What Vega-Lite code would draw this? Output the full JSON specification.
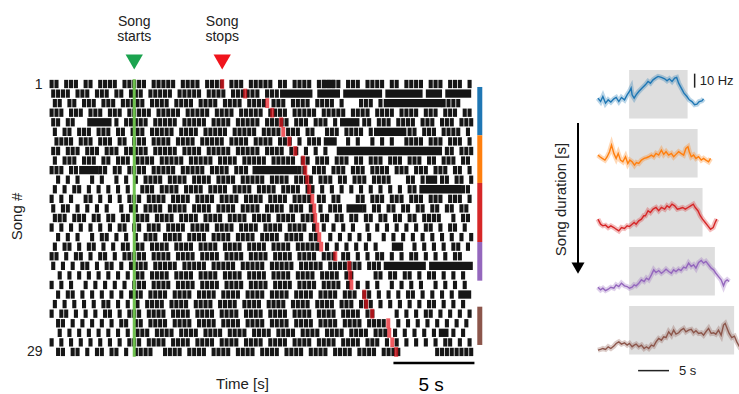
{
"$schema": "https://vega.github.io/schema/vega-lite/v6.json",
"padding": {"left": 9, "top": 14, "right": 0, "bottom": 2},
"bounds": "flush",
"spacing": 9,
"config": {"view": {"stroke": null}, "font": "Liberation Sans", "scale": {"continuousPadding": 0}, "axis": {"labelColor": "#222", "titleColor": "#222", "labelFont": "Liberation Sans", "titleFont": "Liberation Sans"}},
"datasets": {
"spikes": [
{"song":1,"t":[-5.1,-4.8,-4.2,-3.9,-3.6,-3.0,-2.7,-2.1,-1.8,-1.5,-1.2,-0.6,-0.3,0.0,0.3,0.6,1.2,1.5,1.8,2.1,2.4,3.0,3.3,3.6,3.9,4.5,4.8,5.1,5.4,6.0,6.3,6.6,7.2,7.5,7.8,8.1,8.4,9.0,9.3,9.9,10.2,10.5,10.8,11.4,11.7,12.0,12.3,12.6,13.2,13.5,13.8,14.4,14.7,15.0,15.3,15.9,16.2,16.8,17.1,17.4,17.7,18.3,18.6,18.9,19.5,19.8,20.1,20.7]},
{"song":2,"t":[-5.0,-4.7,-4.4,-4.1,-3.5,-3.2,-2.9,-2.3,-2.0,-1.7,-1.1,-0.8,-0.2,0.1,0.4,1.0,1.3,1.6,1.9,2.2,2.8,3.1,3.4,3.7,4.0,4.6,4.9,5.2,5.5,6.1,6.4,6.7,7.0,7.3,7.6,8.2,8.5,8.8]},
{"song":3,"t":[-4.9,-4.6,-4.0,-3.7,-3.1,-2.8,-2.5,-1.9,-1.6,-1.3,-0.7,-0.4,-0.1,0.2,0.5,1.1,1.4,1.7,2.0,2.6,2.9,3.2,3.5,4.1,4.4,4.7,5.0,5.6,5.9,6.2,6.5,7.1,7.4,7.7,8.0,8.6,8.9,9.2,9.8,10.1,10.4,10.7,11.3,11.6,11.9,12.2,12.8,14.0,14.3,14.6,15.2,19.1,19.4,19.7,20.0]},
{"song":4,"t":[-5.1,-4.8,-4.5,-3.9,-3.6,-3.3,-2.7,-2.4,-2.1,-1.5,-1.2,-0.9,-0.3,0.0,0.3,0.6,0.9,1.5,1.8,2.1,2.4,2.7,3.3,3.6,3.9,4.2,4.5,5.1,5.4,5.7,6.0,6.6,6.9,7.2,7.5,7.8,8.4,8.7,9.0,9.3,9.9,10.2,10.5,10.8,11.1,11.7,12.0,12.3,12.6,12.9,13.5,13.8,14.1,14.4,15.0,15.3,15.6,15.9,16.5,16.8,17.1,17.4,18.0,18.3,18.6,19.2,19.5,19.8,20.4,20.7]},
{"song":5,"t":[-5.0,-4.7,-4.1,-3.8,-1.1,-0.5,-0.2,0.1,0.4,0.7,1.3,1.6,1.9,2.2,2.5,3.1,3.4,3.7,4.0,4.3,4.9,5.2,5.5,5.8,6.4,6.7,7.0,7.3,7.6,8.2,8.5,8.8,9.1,9.4,10.0,10.3,10.6,11.2,11.5,11.8,12.4,14.2,14.5,15.1,15.4,15.7,16.3,16.6,16.9,17.2,17.8,18.1,18.4,19.0,19.3,19.6,20.2,20.5,20.8]},
{"song":6,"t":[-4.9,-4.3,-4.0,-3.4,-3.1,-2.8,-2.2,-1.9,-1.6,-1.0,-0.7,-0.1,0.2,0.5,1.1,1.4,1.7,2.0,2.3,2.9,3.2,3.5,3.8,4.4,4.7,5.0,5.3,5.6,6.2,6.5,6.8,7.1,7.4,8.0,8.3,8.6,8.9,9.5,9.8,10.1,10.7,11.0,11.9,12.2,12.5,13.1,13.4,13.7,14.0,14.6,17.0,17.3,17.9,18.2,18.5,19.1,19.4,19.7,20.0,20.6]},
{"song":7,"t":[-4.8,-4.5,-4.2,-3.9,-3.3,-3.0,-2.7,-2.1,-1.8,-1.5,-0.9,-0.6,0.0,0.3,0.6,1.2,1.5,1.8,2.1,2.7,3.0,3.3,3.6,4.2,4.5,4.8,5.1,5.4,6.0,6.3,6.6,6.9,7.5,7.8,8.1,8.4,9.0,9.3,9.6,10.2,10.8,11.1,11.4,13.2,13.8,14.7,15.3,15.9,16.8,17.1,17.4,17.7,18.3,18.6,18.9,19.5,19.8,20.1,20.7]},
{"song":8,"t":[-5.0,-4.7,-4.1,-3.8,-3.5,-2.9,-2.6,-2.3,-1.7,-1.4,-1.1,-0.5,-0.2,0.1,0.4,0.7,1.3,1.6,1.9,2.2,2.5,3.1,3.4,3.7,4.0,4.6,4.9,5.2,5.5,5.8,6.4,6.7,7.0,7.3,7.6,8.2,8.5,8.8,9.1,9.7,10.0,10.6,11.2,11.8,19.3,19.6,20.2,20.5,20.8]},
{"song":9,"t":[-4.9,-4.3,-4.0,-3.7,-3.1,-2.8,-2.5,-1.9,-1.6,-1.0,-0.7,-0.4,0.2,0.5,0.8,1.1,1.7,2.0,2.3,2.6,2.9,3.5,3.8,4.1,4.4,4.7,5.3,5.6,5.9,6.2,6.8,7.1,7.4,7.7,8.0,8.6,8.9,9.2,9.5,9.8,10.4,10.7,11.3,11.6,11.9,12.5,12.8,13.1,13.7,14.0,14.6,14.9,15.2,15.8,16.1,16.4,17.0,17.3,17.6,18.2,18.5,19.1,19.4,19.7,20.3,20.6]},
{"song":10,"t":[-5.1,-4.8,-4.5,-3.9,-3.6,-2.1,-1.8,-1.2,-0.9,-0.3,0.0,0.3,0.6,1.2,1.5,1.8,2.1,2.4,3.0,3.3,3.6,3.9,4.2,4.8,5.1,5.4,5.7,6.3,6.6,6.9,10.2,10.5,11.1,11.4,11.7,12.3,12.6,12.9,13.5,13.8,14.1,14.7,15.0,15.3,15.6,16.2,16.5,16.8,17.4,17.7,18.0,18.6,18.9,19.2,19.8,20.1,20.7]},
{"song":11,"t":[-4.7,-4.1,-3.5,-2.6,-2.0,-1.1,-0.5,0.1,0.7,1.0,1.3,1.6,2.2,2.5,2.8,3.1,3.7,4.0,4.3,4.6,5.2,5.5,5.8,6.1,6.7,7.0,7.3,7.6,7.9,8.5,8.8,9.1,9.4,10.0,10.3,10.6,10.9,11.5,11.8,12.1,12.7,13.0,13.6,13.9,14.2,14.8,15.1,15.4,15.7,16.9,17.2,17.8,19.0,19.3,19.9,20.2,20.8]},
{"song":12,"t":[-4.9,-4.3,-3.7,-3.4,-2.8,-2.2,-1.6,-1.0,-0.4,0.5,0.8,1.1,1.7,2.0,2.3,2.6,3.2,3.5,3.8,4.1,4.7,5.0,5.3,5.6,6.2,6.5,6.8,7.1,7.7,8.0,8.3,8.6,9.2,9.5,9.8,10.1,10.7,11.0,11.6,12.2,12.8,13.4,14.0,14.6,15.2,15.8,16.4,17.0,17.3,20.3,20.6]},
{"song":13,"t":[-5.1,-4.5,-3.9,-3.0,-2.7,-2.1,-1.5,-0.9,-0.3,0.0,0.3,0.9,1.2,1.5,1.8,2.4,2.7,3.0,3.3,3.9,4.2,4.5,4.8,5.4,5.7,6.0,6.3,6.9,7.2,7.5,7.8,8.4,8.7,9.0,9.3,9.9,10.2,10.5,10.8,11.4,11.7,12.3,12.6,13.8,14.1,14.7,15.0,15.3,15.9,16.2,16.5,17.1,17.4,17.7,18.3,18.6,18.9,19.5,19.8,20.1,20.7]},
{"song":14,"t":[-5.0,-4.4,-4.1,-3.5,-2.9,-2.3,-1.7,-0.8,-0.2,0.1,0.7,1.0,1.3,1.6,2.2,2.5,2.8,3.1,3.7,4.0,4.3,4.6,5.2,5.5,5.8,6.1,6.7,7.0,7.3,7.6,8.2,8.5,8.8,9.1,9.7,10.0,10.3,10.9,11.5,12.1,12.4,12.7,14.2,14.8,15.1,15.7,16.0,16.6,16.9,17.5,17.8,18.4,18.7,19.3,19.6,20.2,20.5]},
{"song":15,"t":[-4.9,-4.6,-4.3,-3.7,-3.4,-3.1,-2.5,-2.2,-1.6,-1.3,-0.7,-0.4,0.2,0.5,0.8,1.4,1.7,2.0,2.3,2.9,3.2,3.5,3.8,4.4,4.7,5.0,5.3,5.9,6.2,6.5,6.8,7.4,7.7,8.0,8.3,8.9,9.2,9.5,9.8,10.4,10.7,11.0,11.6,11.9,12.5,12.8,13.4,13.7,14.3,14.6,15.2,15.5,16.1,16.4,17.0,17.3,17.9,18.2,18.5,18.8,19.7,20.3,20.6]},
{"song":16,"t":[-5.1,-4.5,-3.9,-3.3,-2.7,-2.1,-1.5,-0.9,-0.6,0.0,0.3,0.9,1.2,1.5,2.1,2.4,2.7,3.0,3.6,3.9,4.2,4.5,5.1,5.4,5.7,6.0,6.6,6.9,7.2,7.5,8.1,8.4,8.7,9.0,9.6,9.9,10.2,10.5,11.1,11.7,12.3,12.9,13.5,14.4,15.0,15.6,16.2,16.8,17.4,18.0,18.3,18.9,19.5,19.8,20.4]},
{"song":17,"t":[-4.7,-4.1,-3.5,-2.6,-2.0,-1.7,-1.1,-0.5,0.1,0.7,1.0,1.3,1.9,2.2,2.5,2.8,3.4,3.7,4.0,4.3,4.9,5.2,5.5,5.8,6.4,6.7,7.0,7.3,7.9,8.2,8.5,8.8,9.4,9.7,10.0,10.3,10.9,11.2,12.1,12.7,13.3,13.9,14.5,15.4,16.0,16.6,17.2,17.8,18.4,19.0,19.6,20.2,20.8]},
{"song":18,"t":[-4.9,-4.3,-4.0,-3.4,-2.8,-2.5,-1.9,-1.3,-0.7,-0.4,0.2,0.5,1.1,1.4,1.7,2.0,2.6,2.9,3.2,3.5,4.1,4.4,4.7,5.0,5.6,5.9,6.2,6.5,7.1,7.4,7.7,8.0,8.6,8.9,9.2,9.5,10.1,10.4,10.7,11.0,11.3,11.9,12.5,13.1,13.7,14.3,14.9,17.3,17.9,18.5,19.1,19.7,20.0,20.6]},
{"song":19,"t":[-5.1,-4.8,-4.2,-3.6,-3.3,-2.7,-2.1,-1.8,-1.2,-0.6,-0.3,0.0,0.3,0.6,1.2,1.5,1.8,2.1,2.7,3.0,3.3,3.6,4.2,4.5,4.8,5.1,5.7,6.0,6.3,6.6,7.2,7.5,7.8,8.1,8.7,9.0,9.3,9.6,10.2,10.5,10.8,11.1,11.7,12.0,12.3,12.9,13.2,13.8,14.4,15.0,15.3,15.9,16.5,17.1,17.4,18.0,18.6,19.2,19.8,20.1]},
{"song":20,"t":[-5.0,-4.4,-3.8,-3.2,-2.9,-2.3,-1.7,-1.4,-0.8,-0.2,0.1,0.4,0.7,1.3,1.6,1.9,2.2,2.5,3.1,3.4,3.7,4.0,4.3,4.9,5.2,5.5,5.8,6.1,6.7,7.0,7.3,7.6,7.9,8.5,8.8,9.1,9.4,9.7,10.3,10.6,10.9,11.2,11.5,12.1,12.4,12.7,13.0,13.3,13.6,13.9,14.5,14.8,15.1]},
{"song":21,"t":[-4.6,-4.0,-3.4,-2.8,-2.2,-1.6,-1.0,-0.4,0.2,0.5,1.1,1.4,1.7,2.0,2.6,2.9,3.2,3.5,4.1,4.4,4.7,5.0,5.6,5.9,6.2,6.5,7.1,7.4,7.7,8.0,8.6,8.9,9.2,9.5,10.1,10.4,10.7,11.0,11.6,11.9,12.2,12.5,13.1,13.4,14.9,15.2,15.8,16.1,16.7,17.0,17.6,18.2,18.5,19.1,19.7,20.3]},
{"song":22,"t":[-5.1,-4.5,-3.9,-3.0,-2.4,-1.8,-1.2,-0.6,0.0,0.3,0.6,1.2,1.5,1.8,2.1,2.7,3.0,3.3,3.6,4.2,4.5,4.8,5.1,5.7,6.0,6.3,6.6,7.2,7.5,7.8,8.1,8.7,9.0,9.3,9.6,10.2,10.5,10.8,11.1,11.7,12.0,12.3,12.6,13.2,13.8,14.4,15.0,15.9,16.5,17.1,17.7,18.6,19.2,19.8,20.4]},
{"song":23,"t":[-4.7,-4.1,-3.8,-3.2,-2.6,-2.0,-1.4,-0.8,-0.2,0.1,0.4,1.0,1.3,1.6,1.9,2.5,2.8,3.1,3.4,4.0,4.3,4.6,4.9,5.5,5.8,6.1,6.4,7.0,7.3,7.6,7.9,8.5,8.8,9.1,9.4,10.0,10.3,10.6,10.9,11.5,11.8,12.1,12.4,13.0,13.3,13.6,14.2,14.5,15.1,15.7,16.3,16.9,17.2,17.8,18.4,19.0,19.6]},
{"song":24,"t":[-4.9,-4.3,-3.7,-3.1,-2.5,-1.9,-1.6,-1.0,-0.4,0.2,0.8,1.1,1.4,1.7,2.3,2.6,2.9,3.2,3.8,4.1,4.4,4.7,5.3,5.6,5.9,6.2,6.8,7.1,7.4,7.7,8.3,8.6,8.9,9.2,9.8,10.1,10.4,10.7,11.3,11.6,11.9,12.2,12.8,13.1,13.4,14.0,14.3,14.6,15.2,15.8,16.4,17.0,17.6,18.2,18.5,19.1,19.7,20.3]},
{"song":25,"t":[-5.1,-4.5,-4.2,-3.6,-3.0,-2.4,-1.8,-1.5,-0.9,-0.3,0.0,0.3,0.9,1.2,1.5,1.8,2.4,2.7,3.0,3.3,3.9,4.2,4.5,4.8,5.4,5.7,6.0,6.3,6.9,7.2,7.5,7.8,8.4,8.7,9.0,9.3,9.9,10.2,10.5,10.8,11.4,11.7,12.0,12.3,12.9,13.2,13.5,13.8,14.4,14.7,16.2,16.8,17.4,18.0,18.3,18.9,19.5,20.1,20.7]},
{"song":26,"t":[-4.7,-4.4,-3.8,-3.2,-2.6,-2.0,-1.4,-0.8,-0.5,0.1,0.4,1.0,1.3,1.6,1.9,2.5,2.8,3.1,3.4,4.0,4.3,4.6,4.9,5.5,5.8,6.1,6.4,7.0,7.3,7.6,7.9,8.5,8.8,9.1,9.4,10.0,10.3,10.6,10.9,11.5,11.8,12.1,12.4,13.0,13.3,13.6,13.9,14.5,14.8,15.1,15.4,16.3,16.9,17.5,18.1,18.7,19.3,19.9,20.5]},
{"song":27,"t":[-4.6,-4.0,-3.4,-2.8,-2.2,-1.6,-1.0,-0.4,0.2,0.5,0.8,1.4,1.7,2.0,2.3,2.9,3.2,3.5,3.8,4.4,4.7,5.0,5.3,5.9,6.2,6.5,6.8,7.4,7.7,8.0,8.3,8.9,9.2,9.5,9.8,10.4,10.7,11.0,11.3,11.9,12.2,12.5,12.8,13.4,13.7,14.0,14.3,14.9,15.2,15.5,16.1,16.7,17.3,17.9,18.5,19.7,20.3]},
{"song":28,"t":[-5.1,-4.5,-3.9,-3.3,-2.7,-2.1,-1.5,-0.9,-0.3,0.0,0.3,0.9,1.2,1.5,1.8,2.4,2.7,3.0,3.3,3.9,4.2,4.5,4.8,5.4,5.7,6.0,6.3,6.9,7.2,7.5,7.8,8.4,8.7,9.0,9.3,9.9,10.2,10.5,10.8,11.4,11.7,12.0,12.3,12.9,13.2,13.5,13.8,14.4,14.7,15.0,15.6,16.2,16.8,17.4,18.0,18.6,19.2,19.5,20.1,20.7]},
{"song":29,"t":[-4.7,-4.4,-3.8,-3.5,-2.9,-2.3,-2.0,-1.4,-1.1,-0.5,0.1,0.4,0.7,1.0,1.9,2.2,2.5,2.8,3.4,3.7,4.0,4.3,4.9,5.2,5.5,5.8,6.4,6.7,7.0,7.3,7.9,8.2,8.5,8.8,9.4,9.7,10.0,10.3,10.9,11.2,11.5,11.8,12.4,12.7,13.0,13.3,13.9,14.2,14.5,14.8,15.4,15.7,16.0,16.3,18.7,19.0,19.3,19.6,19.9,20.2,20.5,20.8]}
],
"bursts": [
{"song":1,"a":11.6,"b":12.4},
{"song":2,"a":9.0,"b":11.0},{"song":2,"a":11.3,"b":12.7},{"song":2,"a":12.9,"b":15.3},{"song":2,"a":15.5,"b":17.8},{"song":2,"a":18.0,"b":19.0},{"song":2,"a":19.2,"b":20.8},
{"song":3,"a":15.4,"b":19.0},
{"song":5,"a":-2.9,"b":-1.4},{"song":5,"a":12.7,"b":13.9},
{"song":6,"a":14.8,"b":16.8},
{"song":7,"a":11.7,"b":12.5},
{"song":8,"a":12.5,"b":19.0},
{"song":10,"a":-3.4,"b":-2.2},{"song":10,"a":7.3,"b":10.1},
{"song":11,"a":18.0,"b":18.7},
{"song":12,"a":17.6,"b":20.2},
{"song":14,"a":13.1,"b":14.1},
{"song":18,"a":15.9,"b":16.6},
{"song":20,"a":15.4,"b":18.0},{"song":20,"a":18.2,"b":20.9},
{"song":23,"a":20.0,"b":20.8},
{"song":27,"a":18.8,"b":19.4}
],
"stops": [{"song":1,"t":5.43},{"song":2,"t":6.85},{"song":3,"t":8.21},{"song":4,"t":8.52},{"song":5,"t":9.07},{"song":6,"t":9.2},{"song":7,"t":9.57},{"song":8,"t":9.94},{"song":9,"t":10.43},{"song":10,"t":10.56},{"song":11,"t":10.68},{"song":12,"t":10.8},{"song":13,"t":10.99},{"song":14,"t":11.11},{"song":15,"t":11.17},{"song":16,"t":11.3},{"song":17,"t":11.42},{"song":18,"t":11.54},{"song":19,"t":12.41},{"song":20,"t":13.27},{"song":21,"t":13.33},{"song":22,"t":13.4},{"song":23,"t":14.2},{"song":24,"t":14.32},{"song":25,"t":14.69},{"song":26,"t":15.68},{"song":27,"t":15.74},{"song":28,"t":15.93},{"song":29,"t":16.17}],
"groups": [{"g":"blue","from":1.31,"to":6.36},{"g":"orange","from":6.36,"to":11.34},{"g":"red","from":11.34,"to":17.51},{"g":"purple","from":17.51,"to":21.55},{"g":"brown","from":24.27,"to":28.27}],
"windows": [{"g":"blue","start":0,"end":9.46},{"g":"orange","start":0,"end":11.08},{"g":"red","start":0,"end":11.88},{"g":"purple","start":0,"end":13.87},{"g":"brown","start":0,"end":16.99}],
"rates": [
{"g":"blue","t":[-5.05,-4.62,-4.25,-3.82,-3.39,-2.96,-2.47,-2.1,-1.67,-1.24,-0.75,-0.32,0.05,0.32,0.48,0.81,1.13,1.56,2.1,2.63,3.06,3.44,3.87,4.25,4.68,5.22,5.75,6.13,6.51,6.94,7.37,7.69,8.01,8.44,8.87,9.35,9.73,10.16,10.59,10.97,11.34,11.77,12.04],"hz":[14.5,12.1,15.7,10.9,13.3,11.7,14.0,15.0,12.1,15.0,13.3,16.9,19.3,21.7,16.9,14.5,16.9,19.3,21.7,24.0,26.4,25.2,27.6,28.8,30.0,29.3,28.3,26.9,28.3,26.4,28.8,29.3,25.2,21.7,18.1,15.7,13.3,12.1,9.8,10.2,12.1,12.6,14.0]},
{"g":"orange","t":[-5.05,-4.73,-4.35,-3.92,-3.55,-3.17,-2.85,-2.47,-2.1,-1.77,-1.4,-1.02,-0.59,-0.21,0.11,0.48,0.86,1.18,1.56,1.99,2.42,2.8,3.17,3.6,3.98,4.35,4.78,5.22,5.59,5.97,6.4,6.83,7.2,7.58,8.01,8.39,8.82,9.19,9.52,9.73,10.05,10.43,10.81,11.24,11.67,12.04,12.42,12.85,13.17],"hz":[16.0,14.8,13.6,12.4,14.8,18.4,23.1,17.2,13.6,17.2,12.4,11.2,14.8,10.0,12.4,11.2,8.8,10.7,10.0,12.4,13.6,14.1,14.8,16.0,14.8,17.2,16.0,19.5,16.5,18.4,16.0,17.2,14.8,16.5,18.4,17.2,16.0,20.7,21.9,18.4,14.8,16.0,13.6,14.8,12.4,13.6,12.4,11.2,13.6]},
{"g":"red","t":[-5.05,-4.62,-4.25,-3.82,-3.39,-2.96,-2.47,-2.1,-1.67,-1.24,-0.75,-0.32,0.05,0.48,0.81,1.13,1.56,1.99,2.37,2.63,3.06,3.44,3.87,4.35,4.78,5.22,5.75,6.13,6.51,6.94,7.37,7.8,8.23,8.66,9.09,9.52,9.95,10.38,10.7,11.13,11.51,11.88,12.31,12.74,13.17,13.6,13.92,14.19],"hz":[12.4,8.8,7.6,8.1,6.4,7.6,6.4,5.2,4.0,6.4,5.7,7.6,7.1,8.8,10.0,8.8,11.2,12.4,14.8,14.8,18.4,17.1,19.5,20.7,18.4,20.7,19.5,21.9,20.7,23.1,21.9,19.5,20.0,20.7,19.5,20.7,21.9,23.1,20.7,18.4,14.8,12.4,10.0,7.6,5.2,6.4,10.0,12.4]},
{"g":"purple","t":[-5.05,-4.62,-4.25,-3.82,-3.39,-2.96,-2.47,-2.1,-1.67,-1.24,-0.75,-0.32,0.05,0.48,0.81,1.13,1.56,1.99,2.42,2.8,3.17,3.6,3.98,4.35,4.78,5.22,5.59,5.97,6.4,6.83,7.2,7.58,8.01,8.39,8.82,9.19,9.62,10.05,10.43,10.81,11.24,11.67,12.04,12.42,12.85,13.28,13.66,14.03,14.46,14.89,15.27,15.54,15.86,16.18],"hz":[5.9,4.0,5.2,3.5,4.5,5.9,5.2,7.6,6.4,8.8,6.9,6.4,5.2,5.9,7.6,6.9,8.8,11.2,10.0,12.4,11.2,14.7,18.3,16.4,17.8,15.9,17.1,18.8,17.1,15.9,18.3,17.1,18.8,17.8,20.2,19.5,23.1,20.7,21.9,19.5,23.5,25.0,23.1,24.3,21.9,19.5,18.3,15.9,13.5,11.2,6.9,10.0,11.2,10.0]},
{"g":"brown","t":[-5.05,-4.62,-4.25,-3.82,-3.39,-2.96,-2.47,-2.1,-1.67,-1.24,-0.75,-0.32,0.05,0.48,0.81,1.13,1.56,1.99,2.42,2.8,3.17,3.6,3.98,4.35,4.78,5.22,5.59,5.97,6.4,6.83,7.2,7.58,8.01,8.39,8.82,9.19,9.62,10.05,10.43,10.81,11.24,11.67,12.04,12.42,12.85,13.28,13.66,14.03,14.46,14.89,15.27,15.54,15.86,16.18,16.61,17.04,17.42,17.8,18.12],"hz":[3.1,3.6,4.3,3.6,5.5,4.3,6.0,7.9,9.0,7.4,8.3,6.7,7.9,5.5,6.7,7.4,5.5,6.7,4.3,5.5,4.3,6.7,6.0,9.0,11.4,10.2,12.6,12.1,16.2,13.8,17.4,14.5,15.5,17.4,18.6,16.2,17.4,17.9,15.5,16.9,15.0,15.5,13.8,16.2,18.6,15.0,15.5,14.5,17.4,13.8,21.0,22.1,18.6,15.0,12.1,13.1,9.0,6.0,7.4]}
]
},
"hconcat": [
{
"width": 509, "height": 292,
"layer": [
{"data": {"name": "spikes"}, "transform": [{"flatten": ["t"]}],
 "mark": {"type": "tick", "orient": "vertical", "thickness": 4.1, "size": 8.3, "color": "#161616", "opacity": 1},
 "encoding": {
  "x": {"field": "t", "type": "quantitative", "scale": {"domain": [-5.2, 26.22], "nice": false, "zero": false, "padding": 0}, "axis": {"title": "Time [s]", "domain": false, "ticks": false, "labels": false, "grid": false, "titleFontSize": 15, "titleFontWeight": "normal", "titlePadding": 14, "titleX": 192}},
  "y": {"field": "song", "type": "quantitative", "scale": {"domain": [-0.463, 30.05], "reverse": true, "nice": false, "zero": false, "padding": 0}, "axis": {"title": "Song #", "values": [1, 29], "domain": false, "ticks": false, "grid": false, "labelFontSize": 14, "labelPadding": 8, "titleFontSize": 15, "titleFontWeight": "normal", "titlePadding": 2}}
 }},
{"data": {"name": "bursts"},
 "mark": {"type": "bar", "orient": "horizontal", "height": 8.3, "color": "#161616"},
 "encoding": {"x": {"field": "a", "type": "quantitative", "scale": {"domain": [-5.2, 26.22], "nice": false, "zero": false, "padding": 0}}, "x2": {"field": "b"}, "y": {"field": "song", "type": "quantitative", "scale": {"domain": [-0.463, 30.05], "reverse": true, "nice": false, "zero": false, "padding": 0}}}},
{"data": {"values": [{"t": 0}]},
 "mark": {"type": "rule", "color": "#6fc24f", "strokeWidth": 3},
 "encoding": {"x": {"field": "t", "type": "quantitative", "scale": {"domain": [-5.2, 26.22], "nice": false, "zero": false, "padding": 0}}, "y": {"datum": 0.5, "scale": {"domain": [-0.463, 30.05], "reverse": true, "nice": false, "zero": false, "padding": 0}}, "y2": {"datum": 29.5}}},
{"data": {"name": "stops"},
 "mark": {"type": "tick", "orient": "vertical", "thickness": 4, "size": 9.8, "color": "#e8141c"},
 "encoding": {"x": {"field": "t", "type": "quantitative", "scale": {"domain": [-5.2, 26.22], "nice": false, "zero": false, "padding": 0}}, "y": {"field": "song", "type": "quantitative", "scale": {"domain": [-0.463, 30.05], "reverse": true, "nice": false, "zero": false, "padding": 0}}}},
{"data": {"name": "groups"},
 "mark": {"type": "rule", "strokeWidth": 5},
 "encoding": {"x": {"datum": 21.33, "scale": {"domain": [-5.2, 26.22], "nice": false, "zero": false, "padding": 0}}, "y": {"field": "from", "type": "quantitative", "scale": {"domain": [-0.463, 30.05], "reverse": true, "nice": false, "zero": false, "padding": 0}}, "y2": {"field": "to"},
  "color": {"field": "g", "type": "nominal", "scale": {"domain": ["blue","orange","red","purple","brown"], "range": ["#1f77b4","#ff7f0e","#d62728","#9467bd","#8c564b"]}, "legend": null}}},
{"data": {"values": [{"t": 0}]},
 "mark": {"type": "point", "shape": "triangle-down", "filled": true, "size": 300, "color": "#1ba34f", "opacity": 1},
 "encoding": {"x": {"field": "t", "type": "quantitative", "scale": {"domain": [-5.2, 26.22], "nice": false, "zero": false, "padding": 0}}, "y": {"datum": -1.3, "scale": {"domain": [-0.463, 30.05], "reverse": true, "nice": false, "zero": false, "padding": 0}}}},
{"data": {"values": [{"t": 5.43}]},
 "mark": {"type": "point", "shape": "triangle-down", "filled": true, "size": 300, "color": "#f0141c", "opacity": 1},
 "encoding": {"x": {"field": "t", "type": "quantitative", "scale": {"domain": [-5.2, 26.22], "nice": false, "zero": false, "padding": 0}}, "y": {"datum": -1.3, "scale": {"domain": [-0.463, 30.05], "reverse": true, "nice": false, "zero": false, "padding": 0}}}},
{"data": {"values": [{"t": 0, "label": "Song\nstarts"}, {"t": 5.43, "label": "Song\nstops"}]},
 "mark": {"type": "text", "lineBreak": "\n", "fontSize": 14, "lineHeight": 15, "align": "center", "baseline": "alphabetic", "color": "#222"},
 "encoding": {"x": {"field": "t", "type": "quantitative", "scale": {"domain": [-5.2, 26.22], "nice": false, "zero": false, "padding": 0}}, "y": {"datum": -5.1, "scale": {"domain": [-0.463, 30.05], "reverse": true, "nice": false, "zero": false, "padding": 0}}, "text": {"field": "label"}}},
{"data": {"values": [{"a": 16.0, "b": 21.0, "label": "5 s"}]},
 "mark": {"type": "rule", "strokeWidth": 2.5, "color": "#000"},
 "encoding": {"x": {"field": "a", "type": "quantitative", "scale": {"domain": [-5.2, 26.22], "nice": false, "zero": false, "padding": 0}}, "x2": {"field": "b"}, "y": {"datum": 30.15, "scale": {"domain": [-0.463, 30.05], "reverse": true, "nice": false, "zero": false, "padding": 0}}}},
{"data": {"values": [{"a": 16.0, "b": 21.0, "label": "5 s"}]},
 "mark": {"type": "text", "fontSize": 19, "baseline": "middle", "align": "center", "color": "#000"},
 "encoding": {"x": {"datum": 18.33, "scale": {"domain": [-5.2, 26.22], "nice": false, "zero": false, "padding": 0}}, "y": {"datum": 32.45, "scale": {"domain": [-0.463, 30.05], "reverse": true, "nice": false, "zero": false, "padding": 0}}, "text": {"field": "label"}}}
]
},
{
"width": 20, "height": 258,
"data": {"values": [{"shortest": 5.43, "longest": 16.17}]},
"layer": [
{"mark": {"type": "rule", "strokeWidth": 2, "color": "#000"},
 "encoding": {"y": {"field": "shortest", "type": "quantitative", "scale": {"domain": [1.5, 20.61], "reverse": true, "nice": false, "zero": false}, "axis": {"title": "Song duration [s]", "labels": false, "ticks": false, "domain": false, "grid": false, "titleFontSize": 15, "titleFontWeight": "normal", "titlePadding": 0}}, "y2": {"field": "longest"}}},
{"mark": {"type": "point", "shape": "triangle-down", "filled": true, "size": 170, "color": "#000", "opacity": 1},
 "encoding": {"y": {"field": "longest", "type": "quantitative", "scale": {"domain": [1.5, 20.61], "reverse": true, "nice": false, "zero": false}}}}
]
},
{
"vconcat": [
{"width": 144, "height": 48.5, "layer": [
 {"data": {"name": "windows"}, "transform": [{"filter": "datum.g === 'blue'"}], "mark": {"type": "rect", "color": "#dedede"}, "encoding": {"x": {"field": "start", "type": "quantitative", "scale": {"domain": [-5.2, 18.1], "nice": false, "zero": false}, "axis": null}, "x2": {"field": "end"}}},
 {"data": {"name": "rates"}, "transform": [{"filter": "datum.g === 'blue'"}, {"flatten": ["t", "hz"]}], "mark": {"type": "line", "color": "#1f77b4", "strokeWidth": 5, "opacity": 0.3}, "encoding": {"x": {"field": "t", "type": "quantitative", "scale": {"domain": [-5.2, 18.1], "nice": false, "zero": false}, "axis": null}, "y": {"field": "hz", "type": "quantitative", "scale": {"domain": [0, 34.6], "nice": false, "zero": false}, "axis": null}}},
 {"data": {"name": "rates"}, "transform": [{"filter": "datum.g === 'blue'"}, {"flatten": ["t", "hz"]}], "mark": {"type": "line", "color": "#1f77b4", "strokeWidth": 1.4}, "encoding": {"x": {"field": "t", "type": "quantitative", "scale": {"domain": [-5.2, 18.1], "nice": false, "zero": false}, "axis": null}, "y": {"field": "hz", "type": "quantitative", "scale": {"domain": [0, 34.6], "nice": false, "zero": false}, "axis": null}}},
 {"data": {"values": [{"t": 10.6, "lo": 22, "hi": 32, "label": "10 Hz"}]}, "mark": {"type": "rule", "strokeWidth": 1.5, "color": "#222"}, "encoding": {"x": {"field": "t", "type": "quantitative", "scale": {"domain": [-5.2, 18.1], "nice": false, "zero": false}, "axis": null}, "y": {"field": "lo", "type": "quantitative", "scale": {"domain": [0, 34.6], "nice": false, "zero": false}, "axis": null}, "y2": {"field": "hi"}}},
 {"data": {"values": [{"t": 10.6, "lo": 22, "hi": 32, "label": "10 Hz"}]}, "mark": {"type": "text", "align": "left", "baseline": "middle", "fontSize": 13, "dx": 5, "color": "#222"}, "encoding": {"x": {"field": "t", "type": "quantitative", "scale": {"domain": [-5.2, 18.1], "nice": false, "zero": false}, "axis": null}, "y": {"datum": 27, "scale": {"domain": [0, 34.6], "nice": false, "zero": false}, "axis": null}, "text": {"field": "label"}}}
]},
{"width": 144, "height": 48.5, "layer": [
 {"data": {"name": "windows"}, "transform": [{"filter": "datum.g === 'orange'"}], "mark": {"type": "rect", "color": "#dedede"}, "encoding": {"x": {"field": "start", "type": "quantitative", "scale": {"domain": [-5.2, 18.1], "nice": false, "zero": false}, "axis": null}, "x2": {"field": "end"}}},
 {"data": {"name": "rates"}, "transform": [{"filter": "datum.g === 'orange'"}, {"flatten": ["t", "hz"]}], "mark": {"type": "line", "color": "#ff7f0e", "strokeWidth": 5, "opacity": 0.3}, "encoding": {"x": {"field": "t", "type": "quantitative", "scale": {"domain": [-5.2, 18.1], "nice": false, "zero": false}, "axis": null}, "y": {"field": "hz", "type": "quantitative", "scale": {"domain": [0, 34.6], "nice": false, "zero": false}, "axis": null}}},
 {"data": {"name": "rates"}, "transform": [{"filter": "datum.g === 'orange'"}, {"flatten": ["t", "hz"]}], "mark": {"type": "line", "color": "#ff7f0e", "strokeWidth": 1.4}, "encoding": {"x": {"field": "t", "type": "quantitative", "scale": {"domain": [-5.2, 18.1], "nice": false, "zero": false}, "axis": null}, "y": {"field": "hz", "type": "quantitative", "scale": {"domain": [0, 34.6], "nice": false, "zero": false}, "axis": null}}}
]},
{"width": 144, "height": 48.5, "layer": [
 {"data": {"name": "windows"}, "transform": [{"filter": "datum.g === 'red'"}], "mark": {"type": "rect", "color": "#dedede"}, "encoding": {"x": {"field": "start", "type": "quantitative", "scale": {"domain": [-5.2, 18.1], "nice": false, "zero": false}, "axis": null}, "x2": {"field": "end"}}},
 {"data": {"name": "rates"}, "transform": [{"filter": "datum.g === 'red'"}, {"flatten": ["t", "hz"]}], "mark": {"type": "line", "color": "#d62728", "strokeWidth": 5, "opacity": 0.3}, "encoding": {"x": {"field": "t", "type": "quantitative", "scale": {"domain": [-5.2, 18.1], "nice": false, "zero": false}, "axis": null}, "y": {"field": "hz", "type": "quantitative", "scale": {"domain": [0, 34.6], "nice": false, "zero": false}, "axis": null}}},
 {"data": {"name": "rates"}, "transform": [{"filter": "datum.g === 'red'"}, {"flatten": ["t", "hz"]}], "mark": {"type": "line", "color": "#d62728", "strokeWidth": 1.4}, "encoding": {"x": {"field": "t", "type": "quantitative", "scale": {"domain": [-5.2, 18.1], "nice": false, "zero": false}, "axis": null}, "y": {"field": "hz", "type": "quantitative", "scale": {"domain": [0, 34.6], "nice": false, "zero": false}, "axis": null}}}
]},
{"width": 144, "height": 48.5, "layer": [
 {"data": {"name": "windows"}, "transform": [{"filter": "datum.g === 'purple'"}], "mark": {"type": "rect", "color": "#dedede"}, "encoding": {"x": {"field": "start", "type": "quantitative", "scale": {"domain": [-5.2, 18.1], "nice": false, "zero": false}, "axis": null}, "x2": {"field": "end"}}},
 {"data": {"name": "rates"}, "transform": [{"filter": "datum.g === 'purple'"}, {"flatten": ["t", "hz"]}], "mark": {"type": "line", "color": "#9467bd", "strokeWidth": 5, "opacity": 0.3}, "encoding": {"x": {"field": "t", "type": "quantitative", "scale": {"domain": [-5.2, 18.1], "nice": false, "zero": false}, "axis": null}, "y": {"field": "hz", "type": "quantitative", "scale": {"domain": [0, 34.6], "nice": false, "zero": false}, "axis": null}}},
 {"data": {"name": "rates"}, "transform": [{"filter": "datum.g === 'purple'"}, {"flatten": ["t", "hz"]}], "mark": {"type": "line", "color": "#9467bd", "strokeWidth": 1.4}, "encoding": {"x": {"field": "t", "type": "quantitative", "scale": {"domain": [-5.2, 18.1], "nice": false, "zero": false}, "axis": null}, "y": {"field": "hz", "type": "quantitative", "scale": {"domain": [0, 34.6], "nice": false, "zero": false}, "axis": null}}}
]},
{"width": 144, "height": 48.5, "layer": [
 {"data": {"name": "windows"}, "transform": [{"filter": "datum.g === 'brown'"}], "mark": {"type": "rect", "color": "#dedede"}, "encoding": {"x": {"field": "start", "type": "quantitative", "scale": {"domain": [-5.2, 18.1], "nice": false, "zero": false}, "axis": null}, "x2": {"field": "end"}}},
 {"data": {"name": "rates"}, "transform": [{"filter": "datum.g === 'brown'"}, {"flatten": ["t", "hz"]}], "mark": {"type": "line", "color": "#8c564b", "strokeWidth": 5, "opacity": 0.3}, "encoding": {"x": {"field": "t", "type": "quantitative", "scale": {"domain": [-5.2, 18.1], "nice": false, "zero": false}, "axis": null}, "y": {"field": "hz", "type": "quantitative", "scale": {"domain": [0, 34.6], "nice": false, "zero": false}, "axis": null}}},
 {"data": {"name": "rates"}, "transform": [{"filter": "datum.g === 'brown'"}, {"flatten": ["t", "hz"]}], "mark": {"type": "line", "color": "#8c564b", "strokeWidth": 1.4}, "encoding": {"x": {"field": "t", "type": "quantitative", "scale": {"domain": [-5.2, 18.1], "nice": false, "zero": false}, "axis": null}, "y": {"field": "hz", "type": "quantitative", "scale": {"domain": [0, 34.6], "nice": false, "zero": false}, "axis": null}}},
 {"data": {"values": [{"a": 1.45, "b": 6.45, "label": "5 s"}]}, "mark": {"type": "rule", "strokeWidth": 1.5, "color": "#222"}, "encoding": {"x": {"field": "a", "type": "quantitative", "scale": {"domain": [-5.2, 18.1], "nice": false, "zero": false}, "axis": null}, "x2": {"field": "b"}, "y": {"datum": -11.5, "scale": {"domain": [0, 34.6], "nice": false, "zero": false}, "axis": null}}},
 {"data": {"values": [{"a": 1.45, "b": 6.45, "label": "5 s"}]}, "mark": {"type": "text", "align": "left", "baseline": "middle", "fontSize": 13, "dx": 10, "color": "#222"}, "encoding": {"x": {"field": "b", "type": "quantitative", "scale": {"domain": [-5.2, 18.1], "nice": false, "zero": false}, "axis": null}, "y": {"datum": -11.5, "scale": {"domain": [0, 34.6], "nice": false, "zero": false}, "axis": null}, "text": {"field": "label"}}}
]}
],
"spacing": 10,
"bounds": "flush"
}
]
}
